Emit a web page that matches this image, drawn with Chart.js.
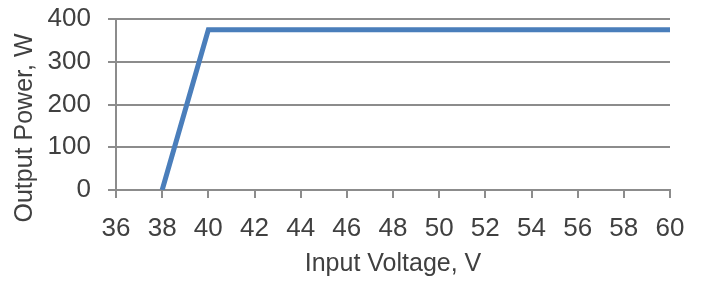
<!DOCTYPE html>
<html>
<head>
<meta charset="utf-8">
<script src="https://cdn.jsdelivr.net/npm/chart.js@4"></script>
<style>
  html, body { margin: 0; padding: 0; background: #fff; }
  #wrap { width: 703px; height: 281px; }
</style>
</head>
<body>
<div id="wrap"><canvas id="power-chart"></canvas></div>
<script>
var voltage = [38, 40, 60]
var power = [0, 375, 375]
var xTicks = [36, 38, 40, 42, 44, 46, 48, 50, 52, 54, 56, 58, 60]
var yTicks = [0, 100, 200, 300, 400]
var xTitle = 'Input Voltage, V'
var yTitle = 'Output Power, W'

const gridGray = '#8c8c8c'
const textGray = '#404040'
const fontFamily = '"Liberation Sans", Arial, sans-serif'

// y title is centred lower than the plot, so draw it by hand
const yTitlePlugin = {
  id: 'yTitle',
  afterDraw(chart) {
    const ctx = chart.ctx
    ctx.save()
    ctx.translate(25, 128)
    ctx.rotate(-Math.PI / 2)
    ctx.font = '25px ' + fontFamily
    ctx.fillStyle = textGray
    ctx.textAlign = 'center'
    ctx.textBaseline = 'middle'
    ctx.fillText(yTitle, 0, 0)
    ctx.restore()
  }
}

const powerChart = document.getElementById('power-chart')
new Chart(powerChart, {
  type: 'line',
  data: {
    datasets: [
      {
        data: voltage.map((v, i) => ({ x: v, y: power[i] })),
        borderWidth: 5,
        borderColor: '#4a7ebb',
        pointRadius: 0,
        tension: 0,
        borderCapStyle: 'butt',
        borderJoinStyle: 'miter'
      }
    ]
  },
  options: {
    responsive: true,
    maintainAspectRatio: false,
    animation: false,
    layout: {
      padding: { top: 19, right: 33, left: 0, bottom: 0 }
    },
    scales: {
      x: {
        type: 'linear',
        min: xTicks[0],
        max: xTicks[xTicks.length - 1],
        afterBuildTicks: (scale) => {
          scale.ticks = xTicks.map((v) => ({ value: v }))
        },
        afterFit: (scale) => {
          scale.height = 91
          scale.paddingLeft = 0
          scale.paddingRight = 0
        },
        grid: {
          drawOnChartArea: false,
          drawTicks: true,
          tickLength: 8,
          color: gridGray,
          lineWidth: 2
        },
        border: { color: gridGray, width: 2 },
        ticks: {
          padding: 15,
          color: textGray,
          font: { family: fontFamily, size: 26 },
          maxRotation: 0,
          autoSkip: false
        },
        title: {
          display: true,
          text: xTitle,
          color: textGray,
          font: { family: fontFamily, size: 25 },
          padding: { top: 0, bottom: 2 }
        }
      },
      y: {
        min: yTicks[0],
        max: yTicks[yTicks.length - 1],
        afterBuildTicks: (scale) => {
          scale.ticks = yTicks.map((v) => ({ value: v }))
        },
        afterFit: (scale) => {
          scale.width = 116
          scale.paddingTop = 0
          scale.paddingBottom = 0
        },
        grid: {
          drawTicks: true,
          tickLength: 8,
          color: gridGray,
          lineWidth: 2
        },
        border: { color: gridGray, width: 2 },
        ticks: {
          padding: 17,
          color: textGray,
          font: { family: fontFamily, size: 26 }
        }
      }
    },
    plugins: {
      legend: { display: false },
      tooltip: { enabled: false }
    }
  },
  plugins: [yTitlePlugin]
})
</script>
</body>
</html>
